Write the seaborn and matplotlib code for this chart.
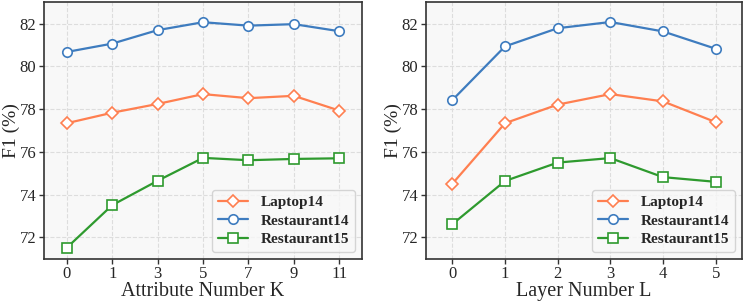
import matplotlib
matplotlib.use('Agg')
import matplotlib.pyplot as plt
import pandas as pd
import numpy as np
import seaborn as sns

# Datos
k_labels = ['0', '1', '3', '5', '7', '9', '11']
k_laptop14 = [77.34, 77.83, 78.24, 78.70, 78.51, 78.62, 77.93]
k_rest14 = [80.67, 81.06, 81.69, 82.06, 81.90, 81.97, 81.64]
k_rest15 = [71.52, 73.51, 74.65, 75.72, 75.61, 75.67, 75.70]

l_labels = ['0', '1', '2', '3', '4', '5']
l_laptop14 = [74.51, 77.34, 78.21, 78.70, 78.36, 77.39]
l_rest14 = [78.42, 80.93, 81.78, 82.07, 81.63, 80.82]
l_rest15 = [72.62, 74.64, 75.50, 75.71, 74.82, 74.60]

series = ['Laptop14', 'Restaurant14', 'Restaurant15']
colores = ['#FF7F50', '#3E7CBF', '#2E9A2E']
marcadores = ['D', 'o', 's']
tamanos = [6.6, 6.8, 6.8]

sns.set_style('whitegrid', {'axes.facecolor': '#F8F8F8', 'grid.linestyle': '--',
                            'grid.color': '#DDDDDD', 'axes.edgecolor': '#333333'})
plt.rcParams['font.family'] = ['Liberation Serif', 'DejaVu Serif']


def tabla(labels, a, b, c):
    pos = np.arange(len(labels))
    return pd.DataFrame({
        'x': np.concatenate([pos, pos, pos]),
        'F1': a + b + c,
        'serie': np.repeat(series, len(labels)),
    })


def dibujar(ax, df, labels, xlabel):
    for nombre, color, m, ms in zip(series, colores, marcadores, tamanos):
        d = df[df['serie'] == nombre]
        sns.lineplot(data=d, x='x', y='F1', ax=ax, color=color, marker=m,
                     markersize=ms, markerfacecolor='white',
                     markeredgecolor=color, markeredgewidth=1.2, linewidth=1.6,
                     label=nombre)
    ax.set_xticks(np.arange(len(labels)))
    ax.set_xticklabels(labels)
    ax.set_xlim(-0.5, len(labels) - 0.5)
    ax.set_ylim(71.0, 83.0)
    ax.set_yticks([72, 74, 76, 78, 80, 82])
    ax.set_xlabel(xlabel, fontsize=14.5, labelpad=-0.5)
    ax.set_ylabel('F1 (%)', fontsize=14, labelpad=0)
    ax.tick_params(axis='both', labelsize=12, length=3.5, width=1, color='#333333',
                   bottom=True, left=True, pad=2)
    for s in ax.spines.values():
        s.set_linewidth(1.2)
    ax.grid(True, linestyle='--', color='#DDDDDD', linewidth=0.8)
    leg = ax.legend(loc='lower right', prop={'weight': 'bold', 'size': 11},
                    frameon=True, fancybox=True, handlelength=2.0,
                    borderpad=0.4, labelspacing=0.3, borderaxespad=0.45)
    leg.get_frame().set_edgecolor('#CCCCCC')
    leg.get_frame().set_facecolor('#F8F8F8')


fig = plt.figure(figsize=(7.47, 3.01), dpi=100)
ax1 = fig.add_axes([0.0590, 0.14, 0.4256, 0.853])
ax2 = fig.add_axes([0.5703, 0.14, 0.423, 0.853])

dibujar(ax1, tabla(k_labels, k_laptop14, k_rest14, k_rest15), k_labels, 'Attribute Number K')
dibujar(ax2, tabla(l_labels, l_laptop14, l_rest14, l_rest15), l_labels, 'Layer Number L')

plt.savefig('out.png', dpi=100)
plt.close(fig)
